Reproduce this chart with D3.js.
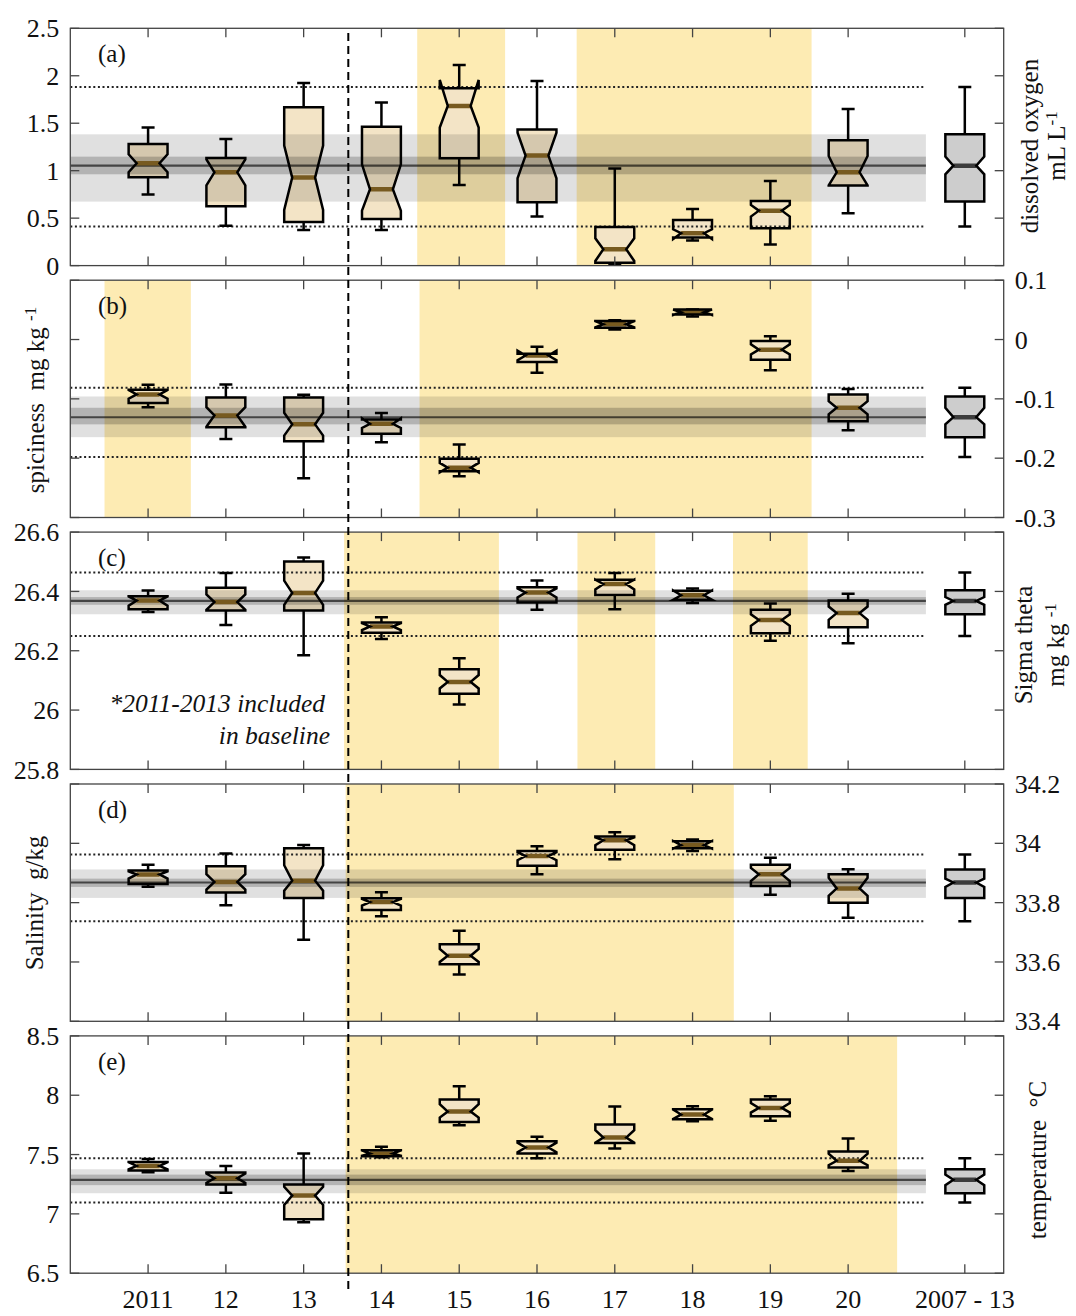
<!DOCTYPE html>
<html>
<head>
<meta charset="utf-8">
<script src="https://cdn.jsdelivr.net/npm/d3@7"></script>
<style>
  body { margin: 0; background: #fff; }
  svg { display: block; }
  text { font-family: "Liberation Serif", "Times New Roman", Times, serif; fill: #111; }
</style>
</head>
<body>
<svg id="chart" width="1076" height="1316"></svg>
<script>
// ---------------------------------------------------------------
// Categories (10 survey years + the 2007-2013 baseline climatology)
// ---------------------------------------------------------------
const categories = ["2011", "12", "13", "14", "15", "16", "17", "18", "19", "20", "2007 - 13"];

// Box statistics per category:
// [low whisker, q1, notch low, median, notch high, q3, high whisker]
const oxygen = [
  [0.748, 0.930, 0.983, 1.078, 1.173, 1.282, 1.454],
  [0.421, 0.625, 0.846, 0.983, 1.120, 1.134, 1.334],
  [0.376, 0.460, 0.586, 0.927, 1.264, 1.668, 1.924],
  [0.376, 0.492, 0.579, 0.804, 1.067, 1.464, 1.717],
  [0.850, 1.131, 1.454, 1.682, 1.956, 1.868, 2.114],
  [0.516, 0.667, 0.920, 1.159, 1.400, 1.433, 1.945],
  [0.014, 0.030, 0.049, 0.172, 0.288, 0.407, 1.022],
  [0.265, 0.295, 0.280, 0.341, 0.383, 0.481, 0.597],
  [0.221, 0.393, 0.516, 0.579, 0.639, 0.681, 0.892],
  [0.551, 0.843, 0.845, 0.983, 1.155, 1.320, 1.650],
  [0.411, 0.674, 0.962, 1.053, 1.148, 1.383, 1.882]
];
const spiciness = [
  [-0.114, -0.1072, -0.0998, -0.0926, -0.0850, -0.0847, -0.0762],
  [-0.1675, -0.148, -0.147, -0.128, -0.114, -0.0976, -0.0757],
  [-0.234, -0.1714, -0.162, -0.143, -0.1235, -0.0976, -0.093],
  [-0.173, -0.159, -0.149, -0.142, -0.133, -0.1348, -0.124],
  [-0.2305, -0.222, -0.224, -0.216, -0.208, -0.201, -0.177],
  [-0.056, -0.038, -0.035, -0.027, -0.019, -0.024, -0.012],
  [0.0167, 0.020, 0.0205, 0.0257, 0.031, 0.0313, 0.0324],
  [0.039, 0.042, 0.0415, 0.046, 0.0505, 0.0505, 0.0505],
  [-0.052, -0.034, -0.025, -0.0171, -0.008, -0.0025, 0.0054],
  [-0.153, -0.1376, -0.126, -0.115, -0.1038, -0.0926, -0.0835],
  [-0.198, -0.1646, -0.143, -0.131, -0.115, -0.096, -0.0813]
];
const sigmaTheta = [
  [26.331, 26.340, 26.352, 26.369, 26.383, 26.384, 26.403],
  [26.287, 26.336, 26.338, 26.364, 26.390, 26.412, 26.462],
  [26.185, 26.336, 26.355, 26.395, 26.436, 26.501, 26.514],
  [26.240, 26.261, 26.270, 26.282, 26.293, 26.295, 26.313],
  [26.019, 26.055, 26.073, 26.095, 26.118, 26.138, 26.175],
  [26.338, 26.363, 26.380, 26.396, 26.410, 26.414, 26.437],
  [26.340, 26.388, 26.407, 26.425, 26.440, 26.439, 26.462],
  [26.361, 26.372, 26.372, 26.387, 26.403, 26.402, 26.410],
  [26.234, 26.259, 26.284, 26.304, 26.323, 26.338, 26.359],
  [26.225, 26.279, 26.304, 26.327, 26.349, 26.369, 26.392],
  [26.250, 26.323, 26.355, 26.368, 26.381, 26.404, 26.464]
];
const salinity = [
  [33.854, 33.863, 33.881, 33.895, 33.905, 33.908, 33.928],
  [33.791, 33.834, 33.844, 33.870, 33.896, 33.923, 33.966],
  [33.675, 33.816, 33.840, 33.874, 33.926, 33.983, 33.994],
  [33.754, 33.775, 33.790, 33.802, 33.813, 33.815, 33.835],
  [33.558, 33.592, 33.600, 33.621, 33.644, 33.660, 33.705],
  [33.896, 33.924, 33.943, 33.957, 33.970, 33.974, 33.990],
  [33.946, 33.978, 33.994, 34.010, 34.020, 34.023, 34.037],
  [33.974, 33.983, 33.982, 33.994, 34.008, 34.007, 34.013],
  [33.827, 33.856, 33.873, 33.896, 33.917, 33.928, 33.951],
  [33.749, 33.800, 33.823, 33.848, 33.884, 33.896, 33.913],
  [33.737, 33.816, 33.853, 33.868, 33.881, 33.912, 33.962]
];
const temperature = [
  [7.351, 7.365, 7.375, 7.404, 7.435, 7.438, 7.463],
  [7.177, 7.247, 7.261, 7.301, 7.340, 7.348, 7.404],
  [6.930, 6.955, 7.076, 7.154, 7.228, 7.247, 7.508],
  [7.478, 7.486, 7.490, 7.508, 7.535, 7.537, 7.565],
  [7.747, 7.775, 7.812, 7.862, 7.924, 7.963, 8.076],
  [7.469, 7.508, 7.520, 7.559, 7.600, 7.612, 7.649],
  [7.551, 7.598, 7.600, 7.643, 7.705, 7.753, 7.904],
  [7.781, 7.798, 7.800, 7.837, 7.880, 7.882, 7.907],
  [7.784, 7.823, 7.854, 7.893, 7.935, 7.963, 7.992],
  [7.362, 7.390, 7.410, 7.447, 7.508, 7.525, 7.635],
  [7.096, 7.174, 7.242, 7.287, 7.331, 7.376, 7.469]
];

// y tick labels for each panel
const oxygenTicks = ["0", "0.5", "1", "1.5", "2", "2.5"];
const spicinessTicks = ["-0.3", "-0.2", "-0.1", "0", "0.1"];
const sigmaTicks = ["25.8", "26", "26.2", "26.4", "26.6"];
const salinityTicks = ["33.4", "33.6", "33.8", "34", "34.2"];
const temperatureTicks = ["6.5", "7", "7.5", "8", "8.5"];

// Anomalous periods (shaded), in x-axis units (year index)
const oxygenPeriods = [[4.46, 5.59], [6.51, 9.53]];
const spicinessPeriods = [[0.44, 1.55], [4.49, 9.53]];
const sigmaPeriods = [[3.52, 5.51], [6.52, 7.52], [8.52, 9.48]];
const salinityPeriods = [[3.54, 8.53]];
const temperaturePeriods = [[3.54, 10.63]];

// Start of the post-baseline era (dashed marker), x-axis units
const eraBreak = 3.574;

// ---------------------------------------------------------------
const svg = d3.select("#chart");
const yellow = "#fdebb3";
const boxFill = "#f3e4c6";
const baseFill = "#cdcdcd";
const medianBrown = "#775a20";
const frameColor = "#444";
const NBSP2 = "\u00a0\u00a0";

const x = d3.scaleLinear().domain([0, 12]).range([70.3, 1003.7]);
const catPos = categories.map((c, i) => (i < 10 ? i + 1 : 11.5));
const baseIdx = categories.length - 1;
const baselineEnd = 11;

const panelTop0 = 28.3, panelH = 237.3, panelStep = 251.9;
const hw = 0.25 * (x(1) - x(0));  // half box width in px
const inset = 8;                    // notch depth in px
const capHalf = 6.5;                // whisker cap half width in px
const lineW = 2.5;

const panels = [
  { stats: oxygen, ticks: oxygenTicks, periods: oxygenPeriods, letter: "(a)", side: "left",
    title: [{ x: 1038, parts: [["dissolved oxygen"]] }, { x: 1065, parts: [["mL L"], ["-1", true]] }], titleY: 146 },
  { stats: spiciness, ticks: spicinessTicks, periods: spicinessPeriods, letter: "(b)", side: "right",
    title: [{ x: 44, parts: [["spiciness" + NBSP2 + "mg kg "], ["-1", true]] }], titleY: 400 },
  { stats: sigmaTheta, ticks: sigmaTicks, periods: sigmaPeriods, letter: "(c)", side: "left",
    title: [{ x: 1032, parts: [["Sigma theta"]] }, { x: 1064, parts: [["mg kg "], ["-1", true]] }], titleY: 645 },
  { stats: salinity, ticks: salinityTicks, periods: salinityPeriods, letter: "(d)", side: "right",
    title: [{ x: 43, parts: [["Salinity" + NBSP2 + "g/kg"]] }], titleY: 903 },
  { stats: temperature, ticks: temperatureTicks, periods: temperaturePeriods, letter: "(e)", side: "left",
    title: [{ x: 1046, parts: [["temperature" + NBSP2 + "°C"]] }], titleY: 1160 }
];

function boxPath(cx, s, y) {
  const [, q1, nl, md, nh, q3] = s;
  const L = cx - hw, R = cx + hw, iL = L + inset, iR = R - inset;
  return `M${L},${y(q1)}L${L},${y(nl)}L${iL},${y(md)}L${L},${y(nh)}L${L},${y(q3)}` +
         `L${R},${y(q3)}L${R},${y(nh)}L${iR},${y(md)}L${R},${y(nl)}L${R},${y(q1)}Z`;
}

panels.forEach((p, pi) => {
  const top = panelTop0 + pi * panelStep;
  const bottom = top + panelH;
  const tickVals = p.ticks.map(Number);
  const y = d3.scaleLinear().domain(d3.extent(tickVals)).range([bottom, top]);
  const g = svg.append("g");

  const clipId = "clip" + pi;
  svg.append("clipPath").attr("id", clipId)
    .append("rect").attr("x", x(0)).attr("y", top).attr("width", x(12) - x(0)).attr("height", panelH);
  const inner = g.append("g").attr("clip-path", `url(#${clipId})`);

  // shaded anomalous periods
  inner.selectAll("rect.period").data(p.periods).join("rect")
    .attr("class", "period")
    .attr("x", d => x(d[0])).attr("width", d => x(d[1]) - x(d[0]))
    .attr("y", top).attr("height", panelH)
    .attr("fill", yellow);

  // box fills
  inner.selectAll("path.fill").data(p.stats).join("path")
    .attr("class", "fill")
    .attr("d", (s, i) => boxPath(x(catPos[i]), s, y))
    .attr("fill", (s, i) => (i === baseIdx ? baseFill : boxFill));

  // baseline envelope: interquartile range, notch interval and median
  const base = p.stats[baseIdx];
  inner.append("rect")
    .attr("x", x(0)).attr("width", x(baselineEnd) - x(0))
    .attr("y", y(base[5])).attr("height", y(base[1]) - y(base[5]))
    .attr("fill", "#000").attr("fill-opacity", 0.12);
  inner.append("rect")
    .attr("x", x(0)).attr("width", x(baselineEnd) - x(0))
    .attr("y", y(base[4])).attr("height", y(base[2]) - y(base[4]))
    .attr("fill", "#000").attr("fill-opacity", 0.2);
  inner.append("line")
    .attr("x1", x(0)).attr("x2", x(baselineEnd))
    .attr("y1", y(base[3])).attr("y2", y(base[3]))
    .attr("stroke", "#000").attr("stroke-opacity", 0.62).attr("stroke-width", 2.2);

  // baseline whisker limits (dotted)
  [base[0], base[6]].forEach(v => {
    inner.append("line")
      .attr("x1", x(0)).attr("x2", x(baselineEnd))
      .attr("y1", y(v)).attr("y2", y(v))
      .attr("stroke", "#222").attr("stroke-width", 2)
      .attr("stroke-dasharray", "2,2.6");
  });

  // whiskers
  const wg = inner.append("g").attr("stroke", "#000").attr("stroke-width", lineW).attr("fill", "none");
  p.stats.forEach((s, i) => {
    const cx = x(catPos[i]);
    wg.append("line").attr("x1", cx).attr("x2", cx).attr("y1", y(s[5])).attr("y2", y(s[6]));
    wg.append("line").attr("x1", cx).attr("x2", cx).attr("y1", y(s[1])).attr("y2", y(s[0]));
    wg.append("line").attr("x1", cx - capHalf).attr("x2", cx + capHalf).attr("y1", y(s[6])).attr("y2", y(s[6]));
    wg.append("line").attr("x1", cx - capHalf).attr("x2", cx + capHalf).attr("y1", y(s[0])).attr("y2", y(s[0]));
  });

  // medians
  inner.selectAll("line.median").data(p.stats).join("line")
    .attr("class", "median")
    .attr("x1", (s, i) => x(catPos[i]) - hw + inset)
    .attr("x2", (s, i) => x(catPos[i]) + hw - inset)
    .attr("y1", s => y(s[3])).attr("y2", s => y(s[3]))
    .attr("stroke", (s, i) => (i === baseIdx ? "#3c3c3c" : medianBrown))
    .attr("stroke-width", 4.5);

  // box outlines
  inner.selectAll("path.outline").data(p.stats).join("path")
    .attr("class", "outline")
    .attr("d", (s, i) => boxPath(x(catPos[i]), s, y))
    .attr("fill", "none").attr("stroke", "#000").attr("stroke-width", lineW)
    .attr("stroke-linejoin", "miter");

  // frame
  g.append("rect")
    .attr("x", x(0)).attr("y", top).attr("width", x(12) - x(0)).attr("height", panelH)
    .attr("fill", "none").attr("stroke", frameColor).attr("stroke-width", 1.3);

  // x ticks (inward, top and bottom)
  const tk = g.append("g").attr("stroke", frameColor).attr("stroke-width", 1.3);
  catPos.forEach(v => {
    tk.append("line").attr("x1", x(v)).attr("x2", x(v)).attr("y1", bottom).attr("y2", bottom - 9);
    tk.append("line").attr("x1", x(v)).attr("x2", x(v)).attr("y1", top).attr("y2", top + 9);
  });
  // y ticks (inward, both sides)
  tickVals.forEach(v => {
    tk.append("line").attr("x1", x(0)).attr("x2", x(0) + 9).attr("y1", y(v)).attr("y2", y(v));
    tk.append("line").attr("x1", x(12)).attr("x2", x(12) - 9).attr("y1", y(v)).attr("y2", y(v));
  });

  // y tick labels
  const lx = p.side === "left" ? x(0) - 11 : x(12) + 11;
  g.selectAll("text.ytick").data(p.ticks).join("text")
    .attr("class", "ytick")
    .attr("x", lx).attr("y", d => y(+d)).attr("dy", "0.35em")
    .attr("text-anchor", p.side === "left" ? "end" : "start")
    .attr("font-size", 26)
    .text(d => d);

  // panel letter
  g.append("text").attr("x", 98).attr("y", top + 34).attr("font-size", 25).text(p.letter);

  // axis title (rotated)
  p.title.forEach(line => {
    const t = g.append("text")
      .attr("transform", `translate(${line.x},${p.titleY}) rotate(-90)`)
      .attr("text-anchor", "middle").attr("font-size", 25);
    line.parts.forEach(([str, sup]) => {
      if (sup) {
        t.append("tspan").attr("dy", "-0.5em").attr("font-size", 17).text(str);
      } else {
        t.append("tspan").text(str);
      }
    });
  });

  // bottom axis labels
  if (pi === panels.length - 1) {
    g.selectAll("text.xtick").data(categories).join("text")
      .attr("class", "xtick")
      .attr("x", (d, i) => x(catPos[i])).attr("y", 1308)
      .attr("text-anchor", "middle").attr("font-size", 26)
      .text(d => d);
  }

  // note in panel (c)
  if (pi === 2) {
    g.append("text").attr("x", 325).attr("y", top + 180).attr("text-anchor", "end")
      .attr("font-size", 25.5).attr("font-style", "italic").text("*2011-2013 included");
    g.append("text").attr("x", 330).attr("y", top + 212).attr("text-anchor", "end")
      .attr("font-size", 25.5).attr("font-style", "italic").text("in baseline");
  }
});

// dashed marker for the start of the post-baseline period
svg.append("line")
  .attr("x1", x(eraBreak)).attr("x2", x(eraBreak))
  .attr("y1", 33).attr("y2", 1290)
  .attr("stroke", "#000").attr("stroke-width", 2)
  .attr("stroke-dasharray", "8,5");
</script>
</body>
</html>
